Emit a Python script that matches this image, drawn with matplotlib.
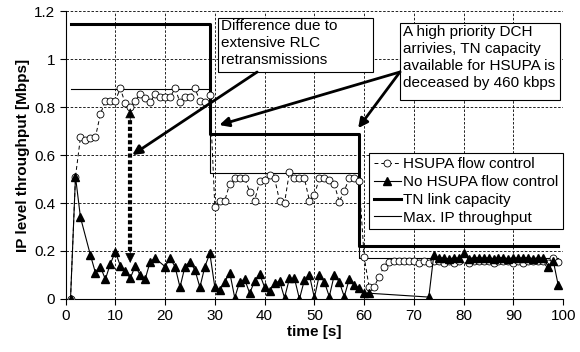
import numpy as np
import matplotlib
matplotlib.use('Agg')
import matplotlib.pyplot as plt
from matplotlib.patches import Rectangle

plt.rcParams['font.family'] = ['Liberation Sans', 'DejaVu Sans']

# HSUPA flow control (circles), one sample per second
hs_t = np.arange(1, 100)
hs_v = [0.0, 0.51, 0.674, 0.663, 0.67, 0.674, 0.77, 0.826, 0.826, 0.826,
        0.878, 0.815, 0.80, 0.826, 0.854, 0.837, 0.82, 0.854, 0.84, 0.84,
        0.84, 0.878, 0.82, 0.84, 0.84, 0.878, 0.826, 0.82, 0.85, 0.385,
        0.41, 0.41, 0.48, 0.503, 0.503, 0.503, 0.447, 0.41, 0.49, 0.495,
        0.517, 0.503, 0.41, 0.40, 0.53, 0.503, 0.503, 0.503, 0.41, 0.433,
        0.503, 0.503, 0.496, 0.48, 0.405, 0.45, 0.503, 0.503, 0.49, 0.176,
        0.05, 0.05, 0.093, 0.135, 0.155, 0.158, 0.16, 0.16, 0.16, 0.16,
        0.148, 0.16, 0.148, 0.16, 0.16, 0.148, 0.16, 0.148, 0.16, 0.165,
        0.148, 0.16, 0.16, 0.16, 0.16, 0.148, 0.16, 0.16, 0.16, 0.148,
        0.16, 0.148, 0.16, 0.16, 0.16, 0.16, 0.148, 0.17, 0.155]

# No HSUPA flow control (triangles)
no_t = [1, 2, 3, 5, 6, 7, 8, 9, 10, 11, 12, 13, 14, 15, 16, 17, 18, 20,
        21, 22, 23, 24, 25, 26, 27, 28, 29, 30, 31, 32, 33, 34, 35, 36, 37,
        38, 39, 40, 41, 42, 43, 44, 45, 46, 47, 48, 49, 50, 51, 52, 53, 54,
        55, 56, 57, 58, 59, 60, 61, 73, 74, 75, 76, 77, 78, 79, 80, 81, 82,
        83, 84, 85, 86, 87, 88, 89, 90, 91, 92, 93, 94, 95, 96, 97, 98, 99]
no_v = [0.0, 0.51, 0.34, 0.183, 0.11, 0.135, 0.082, 0.146, 0.197, 0.139,
        0.118, 0.086, 0.1375, 0.10, 0.083, 0.155, 0.17, 0.135,
        0.17, 0.135, 0.049, 0.135, 0.155, 0.121, 0.049, 0.135, 0.19, 0.049,
        0.0375, 0.072, 0.11, 0.005, 0.072, 0.082, 0.024, 0.075, 0.104, 0.049,
        0.035, 0.065, 0.075, 0.005, 0.086, 0.086, 0.0, 0.079, 0.10, 0.005,
        0.10, 0.072, 0.01, 0.10, 0.072, 0.01, 0.082, 0.058, 0.045, 0.024,
        0.024, 0.008, 0.183, 0.17, 0.172, 0.165, 0.172, 0.17, 0.19, 0.168,
        0.172, 0.172, 0.17, 0.172, 0.168, 0.172, 0.172, 0.168, 0.172, 0.17,
        0.172, 0.172, 0.168, 0.172, 0.17, 0.135, 0.16, 0.058]

# step lines
tn_t = [1, 29, 29, 59, 59, 99]
tn_v = [1.146, 1.146, 0.686, 0.686, 0.222, 0.222]
ip_t = [1, 29, 29, 59, 59, 99]
ip_v = [0.875, 0.875, 0.524, 0.524, 0.17, 0.17]

fig = plt.figure(figsize=(5.8, 3.52), dpi=100)
ax = fig.add_axes([0.113, 0.1506, 0.858, 0.818])

ax.plot(tn_t, tn_v, color='black', lw=2.2, label='TN link capacity', zorder=3)
ax.plot(ip_t, ip_v, color='black', lw=0.8, label='Max. IP throughput', zorder=3)
ax.plot(hs_t, hs_v, color='black', lw=0.7, ls=(0, (4, 3)), marker='o', ms=5,
        mfc='white', mec='black', mew=0.6, label='HSUPA flow control', zorder=4)
ax.plot(no_t, no_v, color='black', lw=0.8, marker='^', ms=5.5,
        mfc='black', mec='black', label='No HSUPA flow control', zorder=5)

ax.set_xlim(0, 100)
ax.set_ylim(0, 1.2)
ax.set_xticks(np.arange(0, 101, 10))
ax.set_yticks(np.arange(0, 1.21, 0.2))
ax.set_yticklabels(['0', '0.2', '0.4', '0.6', '0.8', '1', '1.2'])
ax.grid(True, color='black', ls=(0, (3, 2)), lw=0.6)
ax.spines['top'].set_visible(False)
ax.spines['right'].set_visible(False)
ax.tick_params(direction='out', length=4, labelsize=11, colors='black')
ax.set_xlabel('time [s]', fontsize=11, fontweight='bold', labelpad=1)
ax.set_ylabel('IP level throughput [Mbps]', fontsize=11, fontweight='bold', labelpad=3)

h, l = ax.get_legend_handles_labels()
order = [2, 3, 0, 1]
leg = ax.legend([h[i] for i in order], [l[i] for i in order], loc='upper right',
                bbox_to_anchor=(1.0, 0.508), borderaxespad=0, fancybox=False,
                edgecolor='black', framealpha=1, fontsize=11, labelspacing=0.25,
                handlelength=1.8, handletextpad=0.15, borderpad=0.3)
leg.get_frame().set_linewidth(0.8)

# annotation boxes
ax.add_patch(Rectangle((30.65, 0.946), 31.15, 0.225, fc='white', ec='black', lw=0.8, zorder=6))
ax.text(31.3, 1.165, 'Difference due to\nextensive RLC\nretransmissions',
        fontsize=11, va='top', ha='left', zorder=6, linespacing=1.25)
ax.add_patch(Rectangle((67.2, 0.829), 32.2, 0.322, fc='white', ec='black', lw=0.8, zorder=6))
ax.text(67.9, 1.14, 'A high priority DCH\narrivies, TN capacity\navailable for HSUPA is\ndeceased by 460 kbps',
        fontsize=11, va='top', ha='left', zorder=6, linespacing=1.25)

arrow = dict(arrowstyle='-|>', color='black', lw=2, mutation_scale=14, shrinkA=0, shrinkB=0)
ax.annotate('', xy=(13.4, 0.60), xytext=(38.5, 0.946), arrowprops=arrow, zorder=7)
ax.annotate('', xy=(30.9, 0.725), xytext=(67.2, 0.946), arrowprops=arrow, zorder=7)
ax.annotate('', xy=(58.8, 0.712), xytext=(67.2, 0.946), arrowprops=arrow, zorder=7)

# dotted double arrow showing the difference
ax.plot([13, 13], [0.2, 0.75], color='black', lw=3, ls=(0, (1, 0.6)), zorder=7)
head = dict(arrowstyle='-|>', color='black', lw=0.5, mutation_scale=16, shrinkA=0, shrinkB=0)
ax.annotate('', xy=(13, 0.795), xytext=(13, 0.74), arrowprops=head, zorder=7)
ax.annotate('', xy=(13, 0.15), xytext=(13, 0.205), arrowprops=head, zorder=7)

fig.savefig('out.png', dpi=100)
